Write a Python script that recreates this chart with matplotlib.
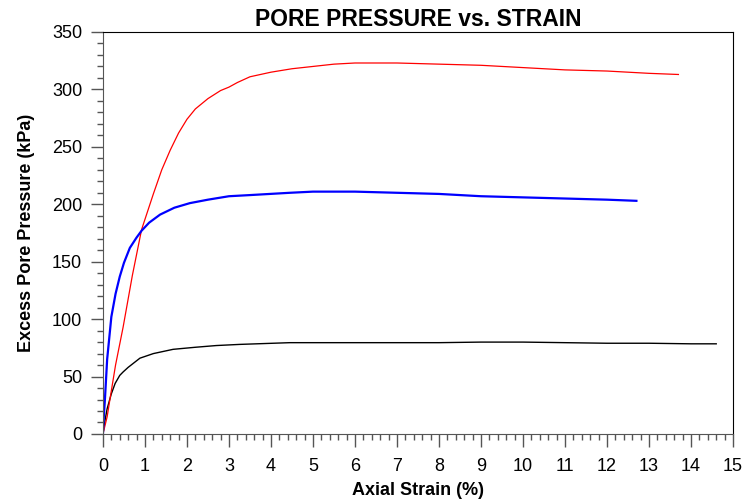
import matplotlib.pyplot as plt
from matplotlib.ticker import MultipleLocator

plt.rcParams.update({"font.family": ["Liberation Sans", "DejaVu Sans"]})

# red curve (strain %, excess pore pressure kPa)
RED_X = [0.0, 0.1, 0.17, 0.3, 0.48, 0.7, 0.92, 1.2, 1.4, 1.6, 1.8, 2.0, 2.2, 2.5,
         2.8, 3.0, 3.2, 3.5, 4.0, 4.5, 5.0, 5.5, 6.0, 7.0, 8.0, 9.0, 10.0, 11.0,
         12.0, 13.0, 13.7]
RED_Y = [0, 15, 31, 60, 93, 138, 178, 209, 230, 247, 262, 274, 283, 292,
         299, 302, 306, 311, 315, 318, 320, 322, 323, 323, 322, 321, 319, 317,
         316, 314, 313]

BLUE_X = [0.0, 0.02, 0.05, 0.1, 0.2, 0.3, 0.4, 0.5, 0.64, 0.8, 0.92, 1.1, 1.36,
          1.7, 2.07, 2.5, 3.0, 3.5, 4.45, 5.0, 6.0, 7.0, 8.0, 9.0, 10.0, 11.0,
          12.0, 12.7]
BLUE_Y = [0, 15, 32, 65, 102, 122, 137, 149, 162, 171, 177, 184, 191,
          197, 201, 204, 207, 208, 210, 211, 211, 210, 209, 207, 206, 205,
          204, 203]

BLACK_X = [0.0, 0.05, 0.1, 0.2, 0.29, 0.4, 0.48, 0.6, 0.88, 1.2, 1.67, 2.2, 2.7,
           3.26, 4.45, 5.5, 7.0, 8.0, 9.0, 10.0, 11.0, 12.0, 13.0, 14.0, 14.6]
BLACK_Y = [0, 12, 22, 35, 44, 51, 54, 58, 66, 70, 73.7, 75.5, 77,
           78, 79.5, 79.5, 79.5, 79.5, 80, 80, 79.5, 79, 79, 78.5, 78.5]


def main():
    fig = plt.figure(figsize=(7.46, 4.99), dpi=100)
    ax = fig.add_axes([0.138, 0.1303, 0.8446, 0.8056])

    ax.plot(BLACK_X, BLACK_Y, color="black", linewidth=1.0)
    ax.plot(RED_X, RED_Y, color="red", linewidth=0.9)
    ax.plot(BLUE_X, BLUE_Y, color="blue", linewidth=1.6)

    ax.set_xlim(0, 15)
    ax.set_ylim(0, 350)
    ax.xaxis.set_major_locator(MultipleLocator(1))
    ax.xaxis.set_minor_locator(MultipleLocator(0.2))
    ax.yaxis.set_major_locator(MultipleLocator(50))
    ax.yaxis.set_minor_locator(MultipleLocator(10))

    ax.tick_params(which="major", direction="out", length=9, width=1.0,
                   color="#555555", labelsize=13, pad=8)
    ax.tick_params(axis="y", which="major", pad=6)
    ax.tick_params(which="minor", direction="out", length=4.5, width=1.0,
                   color="#555555")
    for side in ("left", "bottom"):
        ax.spines[side].set_color("#555555")
    for side in ("top", "right"):
        ax.spines[side].set_color("black")

    ax.set_title("PORE PRESSURE vs. STRAIN", fontsize=16.5, fontweight="bold", pad=4)
    ax.set_xlabel("Axial Strain (%)", fontsize=13, fontweight="bold", labelpad=5)
    ax.set_ylabel("Excess Pore Pressure (kPa)", fontsize=13, fontweight="bold",
                  labelpad=12)

    fig.savefig("out.png", dpi=100)


if __name__ == "__main__":
    main()
